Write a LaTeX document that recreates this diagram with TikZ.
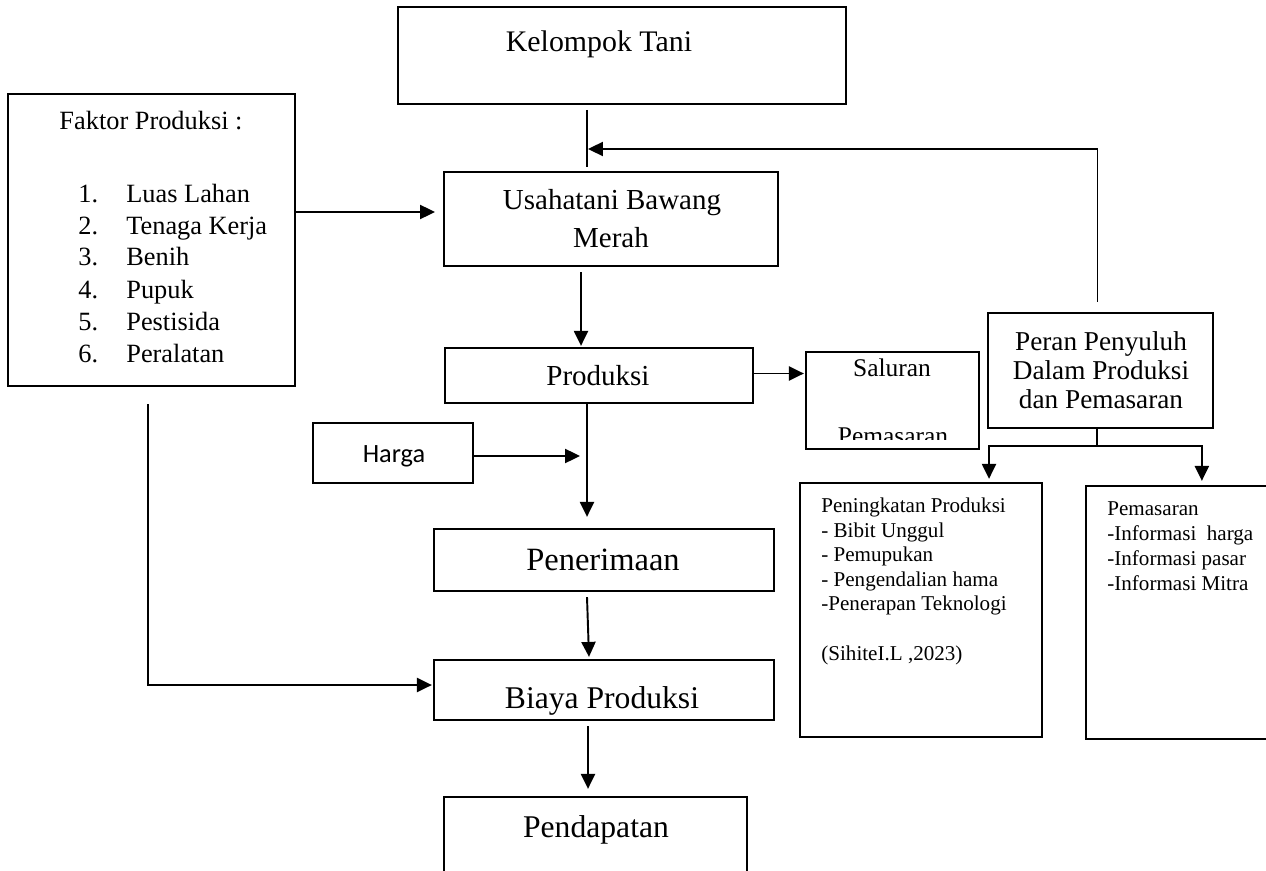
\documentclass[tikz,border=0pt]{standalone}
\usepackage{fontspec}
\setmainfont{Liberation Serif}
\newfontfamily\hargafont{Carlito}
\usetikzlibrary{arrows.meta,fit,calc}

\newcommand{\fsz}[1]{\fontsize{#1}{#1}\selectfont}

\tikzset{
  box/.style={draw, line width=1.3pt, inner sep=0pt},
  arr/.style={-{Triangle[length=8.5pt,width=8pt]}, line width=1.1pt},
  conn/.style={line width=1.1pt},
  txt/.style={anchor=base, inner sep=0pt},
  ltxt/.style={anchor=base west, inner sep=0pt},
}

\begin{document}
\begin{tikzpicture}[x=0.02cm, y=-0.02cm]
    \useasboundingbox (0,0) rectangle (1266,871);
    \clip (0,0) rectangle (1266,871);

    % boxes
    \node[box, fit={(398,7) (846,104)}] (tani) {};
    \node[box, fit={(8,94) (295,386)}] (faktor) {};
    \node[box, fit={(444,172) (778,266)}] (usaha) {};
    \node[box, fit={(445,348) (753,403)}] (prod) {};
    \node[box, fit={(313,423) (473,483)}] (harga) {};
    \node[box, fit={(806,352) (979,449)}] (salur) {};
    \node[box, fit={(988,313) (1213,428)}] (peran) {};
    \node[box, fit={(434,529) (774,591)}] (pener) {};
    \node[box, fit={(434,660) (774,720)}] (biaya) {};
    \node[box, fit={(444,797) (747,900)}] (pendap) {};
    \node[box, fit={(800,483) (1042,737)}] (peni) {};
    \node[box, fit={(1086,486) (1300,739)}] (pemas) {};

    % texts
    \node[txt, font=\fsz{17pt}] (tani-t) at (599,52) {Kelompok Tani};
    \node[txt, font=\fsz{15pt}] (faktor-t) at (151,130) {Faktor Produksi :};
    \node[ltxt, font=\fsz{15pt}] (f1n) at (78,203) {1.};
    \node[ltxt, font=\fsz{15pt}] (f1) at (126,203) {Luas Lahan};
    \node[ltxt, font=\fsz{15pt}] (f2n) at (78,235) {2.};
    \node[ltxt, font=\fsz{15pt}] (f2) at (126,235) {Tenaga Kerja};
    \node[ltxt, font=\fsz{15pt}] (f3n) at (78,266) {3.};
    \node[ltxt, font=\fsz{15pt}] (f3) at (126,266) {Benih};
    \node[ltxt, font=\fsz{15pt}] (f4n) at (78,298) {4.};
    \node[ltxt, font=\fsz{15pt}] (f4) at (126,298) {Pupuk};
    \node[ltxt, font=\fsz{15pt}] (f5n) at (78,330) {5.};
    \node[ltxt, font=\fsz{15pt}] (f5) at (126,330) {Pestisida};
    \node[ltxt, font=\fsz{15pt}] (f6n) at (78,362) {6.};
    \node[ltxt, font=\fsz{15pt}] (f6) at (126,362) {Peralatan};
    \node[txt, font=\fsz{16.5pt}] (usaha-t1) at (612,210) {Usahatani Bawang};
    \node[txt, font=\fsz{16.5pt}] (usaha-t2) at (611,248) {Merah};
    \node[txt, font=\fsz{16.5pt}] (prod-t) at (598,385) {Produksi};
    \node[txt, font=\hargafont\fsz{15pt}] (harga-t) at (394,462) {Harga};
    \node[txt, font=\fsz{14.5pt}] (salur-t1) at (892,376) {Saluran};
    \begin{scope}
        \clip (806,352) rectangle (979,439);
        \node[txt, font=\fsz{14.5pt}] (salur-t2) at (893,444) {Pemasaran};
    \end{scope}
    \node[txt, font=\fsz{15.5pt}] (peran-t1) at (1101,350) {Peran Penyuluh};
    \node[txt, font=\fsz{15.5pt}] (peran-t2) at (1101,379) {Dalam Produksi};
    \node[txt, font=\fsz{15.5pt}] (peran-t3) at (1101,408) {dan Pemasaran};
    \node[txt, font=\fsz{18.5pt}] (pener-t) at (603,570) {Penerimaan};
    \node[txt, font=\fsz{18pt}] (biaya-t) at (602,708) {Biaya Produksi};
    \node[txt, font=\fsz{18pt}] (pendap-t) at (596,837) {Pendapatan};
    \node[ltxt, font=\fsz{12pt}] (peni-t1) at (821,512) {Peningkatan Produksi};
    \node[ltxt, font=\fsz{12pt}] (peni-t2) at (821,537) {- Bibit Unggul};
    \node[ltxt, font=\fsz{12pt}] (peni-t3) at (821,561) {- Pemupukan};
    \node[ltxt, font=\fsz{12pt}] (peni-t4) at (821,586) {- Pengendalian hama};
    \node[ltxt, font=\fsz{12pt}] (peni-t5) at (821,610) {-Penerapan Teknologi};
    \node[ltxt, font=\fsz{12pt}] (peni-t6) at (821,660) {(SihiteI.L ,2023)};
    \node[ltxt, font=\fsz{12pt}] (pemas-t1) at (1107,515) {Pemasaran};
    \node[ltxt, font=\fsz{12pt}] (pemas-t2) at (1107,540) {-Informasi~ harga};
    \node[ltxt, font=\fsz{12pt}] (pemas-t3) at (1107,565) {-Informasi pasar};
    \node[ltxt, font=\fsz{12pt}] (pemas-t4) at (1107,590) {-Informasi Mitra};

    % connectors
    \coordinate (k1) at (587,110);
    \coordinate (k2) at (587,167);
    \draw[line width=0.7pt] (k1) -- (k2);
    \coordinate (fb) at (588,149);
    \draw[arr] ($(peran.north)+(-3,-10)$) |- (fb);
    \coordinate (fu) at (435,212);
    \draw[arr] (faktor.east |- fu) -- (fu);
    \draw[arr] ($(usaha.south)+(-30,5)$) -- ($(prod.north)+(-18,-1)$);
    \draw[arr] ($(prod.south)+(-12,0)$) -- ($(pener.north)+(-17,-11)$);
    \coordinate (hg) at (580,456);
    \draw[arr] (harga.east |- hg) -- (hg);
    \draw[arr] ($(prod.east)+(0,-2)$) -- ($(salur.west |- prod.east)+(-1,-2)$);
    \draw[arr] ($(pener.south)+(-17,5)$) -- ($(biaya.north)+(-15,-2)$);
    \draw[arr] ($(biaya.south)+(-16,5)$) -- ($(pendap.north)+(-7.5,-7)$);
    \draw[arr] ($(faktor.south)+(-3.5,17)$) |- ($(biaya.west)+(-1,-5)$);
    \coordinate (br) at (1097,446);
    \draw[conn] (peran.south -| br) -- (br);
    \draw[arr] (br) -| ($(peni.north)+(68,-3)$);
    \draw[arr] (br) -| ($(pemas.north west)+(117,-4)$);
\end{tikzpicture}
\end{document}
